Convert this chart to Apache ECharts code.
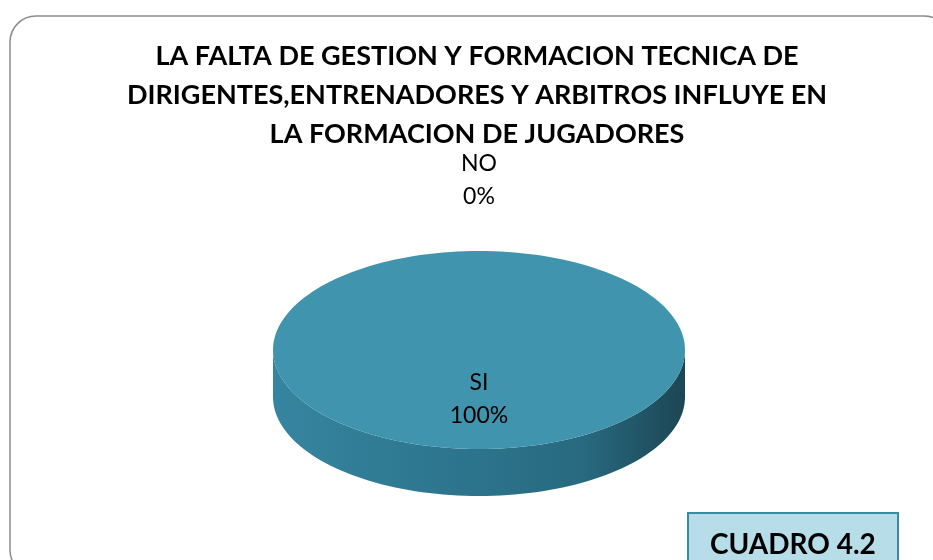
<!DOCTYPE html>
<html lang="es">
<head>
    <meta charset="UTF-8">
    <title>Cuadro 4.2</title>
    <script src="https://cdn.jsdelivr.net/npm/echarts/dist/echarts.min.js"></script>
    <style>
        html, body { margin: 0; padding: 0; background: #ffffff; }
        #chart { width: 933px; height: 560px; }
    </style>
</head>
<body>
    <div id="chart"></div>
    <script>
        const titleText = 'LA FALTA DE GESTION Y FORMACION TECNICA DE\nDIRIGENTES,ENTRENADORES Y ARBITROS INFLUYE EN\nLA FORMACION DE JUGADORES';
        const categories = ['SI', 'NO'];
        const values = [100, 0];
        const tagText = 'CUADRO 4.2';

        const total = values.reduce((a, b) => a + b, 0);
        // ellipse used to fake the 3d pie (layout only)
        const pie = { cx: 479, cy: 350, rx: 206, ry: 99, depth: 47 };

        // angle in degrees, clockwise from 12 o'clock
        function pt(deg, k, dy) {
            const r = deg * Math.PI / 180;
            return [pie.cx + pie.rx * k * Math.sin(r), pie.cy - pie.ry * k * Math.cos(r) + (dy || 0)];
        }
        function arc(a, b, dy) {
            const pts = [];
            const n = Math.max(2, Math.ceil((b - a) / 2));
            for (let i = 0; i <= n; i++) pts.push(pt(a + (b - a) * i / n, 1, dy));
            return pts;
        }

        const sideFill = new echarts.graphic.LinearGradient(0, 0, 1, 0, [
            { offset: 0, color: '#3685a0' },
            { offset: 0.35, color: '#2e7891' },
            { offset: 0.75, color: '#286a80' },
            { offset: 1, color: '#1c4654' }
        ]);

        function renderItem(params, api) {
            const i = params.dataIndex;
            let start = 0;
            for (let j = 0; j < i; j++) start += values[j] / total * 360;
            const end = start + api.value(0) / total * 360;
            const children = [];
            if (end > start) {
                const s = Math.max(start, 90), e = Math.min(end, 270);
                if (e > s) {
                    const top = arc(s, e, 0);
                    const bot = arc(s, e, pie.depth).reverse();
                    children.push({ type: 'polygon', z2: 1, shape: { points: top.concat(bot) }, style: { fill: sideFill } });
                }
                const face = arc(start, end, 0);
                if (end - start < 360) face.push([pie.cx, pie.cy]);
                children.push({ type: 'polygon', z2: 2, shape: { points: face }, style: { fill: '#4094ae' } });
            }
            const mid = (start + end) / 2;
            const pct = Math.round(api.value(0) / total * 100);
            const lp = api.value(0) > 0 ? pt(mid, 0.5) : pt(mid, 1.72);
            children.push({
                type: 'text', z2: 3, x: lp[0], y: lp[1],
                style: {
                    text: categories[i] + '\n' + pct + '%',
                    fill: '#000000',
                    font: '23px Lato',
                    lineHeight: 33,
                    align: 'center',
                    verticalAlign: 'middle'
                }
            });
            return { type: 'group', children: children };
        }

        const option = {
            backgroundColor: '#ffffff',
            animation: false,
            title: [
                {
                    text: titleText,
                    left: 477,
                    top: 37,
                    padding: 0,
                    textAlign: 'center',
                    textStyle: { fontFamily: 'Lato', fontWeight: 'bold', fontSize: 27, lineHeight: 39, color: '#000000' }
                },
                {
                    text: tagText,
                    left: 688,
                    top: 513,
                    padding: [18, 22, 20, 22],
                    backgroundColor: '#b7dee8',
                    borderColor: '#3a8ba0',
                    borderWidth: 2,
                    textStyle: { fontFamily: 'Lato', fontWeight: 'bold', fontSize: 28, color: '#000000' }
                }
            ],
            graphic: [
                {
                    type: 'rect', z: -1, silent: true,
                    shape: { x: 10, y: 16, width: 940, height: 560, r: 26 },
                    style: { fill: 'none', stroke: '#8c8c8c', lineWidth: 1.5 }
                }
            ],
            series: [
                {
                    type: 'custom',
                    coordinateSystem: 'none',
                    renderItem: renderItem,
                    data: values.map((v, i) => ({ name: categories[i], value: [v] }))
                }
            ]
        };

        const chart = echarts.init(document.getElementById('chart'));
        chart.setOption(option);
    </script>
</body>
</html>
